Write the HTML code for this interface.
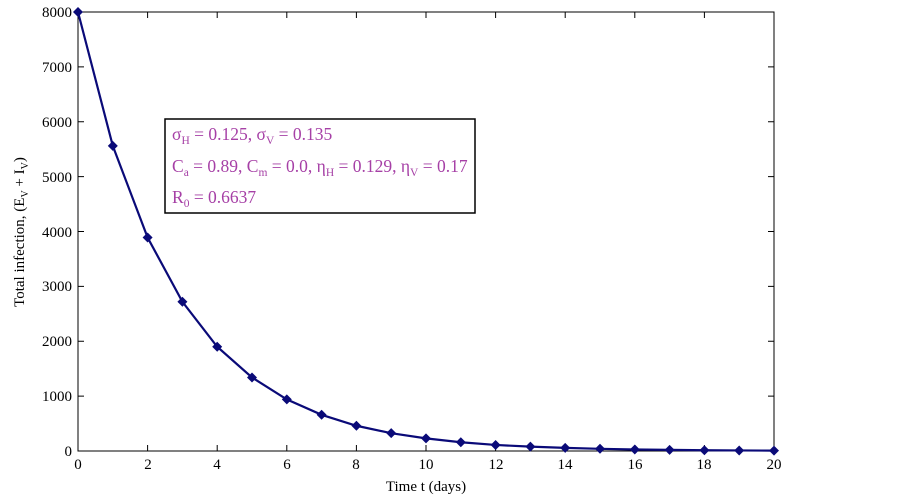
<!DOCTYPE html><html><head><style>body{margin:0;background:#fff}svg{font-family:"Liberation Serif",serif}</style></head><body>
<svg width="902" height="499" xmlns="http://www.w3.org/2000/svg">
<rect x="78" y="12" width="696" height="439" fill="#fff" stroke="#000" stroke-width="1"/>
<g font-size="15" fill="#000" text-anchor="end">
<text x="72" y="17">8000</text><text x="72" y="72">7000</text><text x="72" y="127">6000</text><text x="72" y="182">5000</text><text x="72" y="237">4000</text><text x="72" y="291">3000</text><text x="72" y="346">2000</text><text x="72" y="401">1000</text><text x="72" y="456">0</text>
</g>
<g font-size="15" fill="#000" text-anchor="middle">
<text x="78" y="469">0</text><text x="148" y="469">2</text><text x="217" y="469">4</text><text x="287" y="469">6</text><text x="356" y="469">8</text><text x="426" y="469">10</text><text x="496" y="469">12</text><text x="565" y="469">14</text><text x="635" y="469">16</text><text x="704" y="469">18</text><text x="774" y="469">20</text>
<text x="426" y="491">Time t (days)</text>
</g>
<text transform="translate(24,232) rotate(-90)" font-size="15" text-anchor="middle">Total infection, (E<tspan font-size="10" dy="4">V</tspan><tspan dy="-4"> + I</tspan><tspan font-size="10" dy="4">V</tspan><tspan dy="-4">)</tspan></text>
<g id="tk" stroke="#000"></g>
<polyline id="pl" fill="none" stroke="#0a0a78" stroke-width="2.2"/>
<g id="mk" fill="#0a0a78"></g>
<rect x="165" y="119" width="310" height="94" fill="#fff" stroke="#000" stroke-width="1.5"/>
<g font-size="17.5" fill="#a640a6">
<text x="172" y="140">σ<tspan font-size="11.5" dy="4">H</tspan><tspan dy="-4"> = 0.125, σ</tspan><tspan font-size="11.5" dy="4">V</tspan><tspan dy="-4"> = 0.135</tspan></text>
<text x="172" y="172">C<tspan font-size="11.5" dy="4">a</tspan><tspan dy="-4"> = 0.89, C</tspan><tspan font-size="11.5" dy="4">m</tspan><tspan dy="-4"> = 0.0, η</tspan><tspan font-size="11.5" dy="4">H</tspan><tspan dy="-4"> = 0.129, η</tspan><tspan font-size="11.5" dy="4">V</tspan><tspan dy="-4"> = 0.17</tspan></text>
<text x="172" y="203">R<tspan font-size="11.5" dy="4">0</tspan><tspan dy="-4"> = 0.6637</tspan></text>
</g>
</svg>
<script>
var d=[8000,5560,3890,2720,1900,1340,940,660,460,325,230,160,110,80,57,40,28,20,14,10,7];
var X=i=>78+i*34.8,Y=v=>451-v*0.054875,ns="http://www.w3.org/2000/svg";
document.getElementById('pl').setAttribute('points',d.map((v,i)=>X(i)+','+Y(v)).join(' '));
var mk=document.getElementById('mk'),tk=document.getElementById('tk');
d.forEach((v,i)=>{var p=document.createElementNS(ns,'path');var x=X(i),y=Y(v);p.setAttribute('d',`M${x-5},${y}L${x},${y-5}L${x+5},${y}L${x},${y+5}Z`);mk.appendChild(p);});
function L(a,b,c,e){var l=document.createElementNS(ns,'line');l.setAttribute('x1',a);l.setAttribute('y1',b);l.setAttribute('x2',c);l.setAttribute('y2',e);tk.appendChild(l);}
for(var i=0;i<=10;i++){var x=78+i*69.6;L(x,451,x,445);L(x,12,x,18);}
for(var j=0;j<=8;j++){var y=451-j*54.875;L(78,y,84,y);L(774,y,768,y);}
</script>
</body></html>
